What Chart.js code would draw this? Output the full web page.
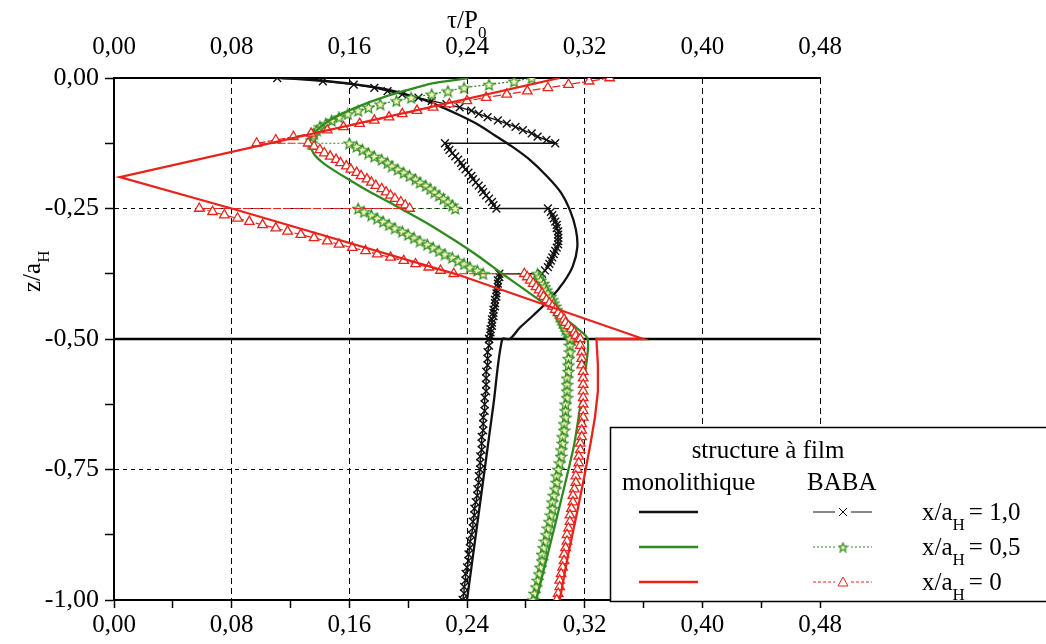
<!DOCTYPE html>
<html>
<head>
<meta charset="utf-8">
<script src="https://cdn.jsdelivr.net/npm/chart.js@4.4.1/dist/chart.umd.min.js"></script>
<style>
  html, body { margin: 0; padding: 0; background: #fff; }
</style>
</head>
<body>
<canvas id="profil" width="1046" height="644"></canvas>
<script>
// depth nodes shared by the three BABA curves (one block per layer, then the substrate)
const zSeg1 = [0, -0.00625, -0.0125, -0.01875, -0.025, -0.03125, -0.0375, -0.04375, -0.05, -0.05625, -0.0625, -0.06875, -0.075, -0.08125, -0.0875, -0.09375, -0.1, -0.10625, -0.1125, -0.11875, -0.125];
const zSeg2 = [-0.125, -0.13125, -0.1375, -0.14375, -0.15, -0.15625, -0.1625, -0.16875, -0.175, -0.18125, -0.1875, -0.19375, -0.2, -0.20625, -0.2125, -0.21875, -0.225, -0.23125, -0.2375, -0.24375, -0.25];
const zSeg3 = [-0.25, -0.25625, -0.2625, -0.26875, -0.275, -0.28125, -0.2875, -0.29375, -0.3, -0.30625, -0.3125, -0.31875, -0.325, -0.33125, -0.3375, -0.34375, -0.35, -0.35625, -0.3625, -0.36875, -0.375];
const zSeg4 = [-0.375, -0.38125, -0.3875, -0.39375, -0.4, -0.40625, -0.4125, -0.41875, -0.425, -0.43125, -0.4375, -0.44375, -0.45, -0.45625, -0.4625, -0.46875, -0.475, -0.48125, -0.4875, -0.49375, -0.5];
const zDeep = [-0.5, -0.5125, -0.525, -0.5375, -0.55, -0.5625, -0.575, -0.5875, -0.6, -0.6125, -0.625, -0.6375, -0.65, -0.6625, -0.675, -0.6875, -0.7, -0.7125, -0.725, -0.7375, -0.75, -0.7625, -0.775, -0.7875, -0.8, -0.8125, -0.825, -0.8375, -0.85, -0.8625, -0.875, -0.8875, -0.9, -0.9125, -0.925, -0.9375, -0.95, -0.9625, -0.975, -0.9875, -1];
const zBaba = [...zSeg1, ...zSeg2, ...zSeg3, ...zSeg4, ...zDeep];

// structure à film BABA, tau/P0 at each node
const tauBaba10 = [
  0.111, 0.142, 0.163, 0.177, 0.186, 0.196, 0.207, 0.216, 0.226, 0.235, 0.243, 0.248, 0.254, 0.261, 0.267, 0.273, 0.278, 0.284, 0.288, 0.294, 0.300,
  0.225, 0.227, 0.228, 0.230, 0.232, 0.234, 0.236, 0.237, 0.239, 0.241, 0.243, 0.244, 0.246, 0.248, 0.250, 0.251, 0.253, 0.255, 0.257, 0.258, 0.260,
  0.295, 0.297, 0.298, 0.299, 0.300, 0.301, 0.301, 0.302, 0.302, 0.302, 0.302, 0.302, 0.301, 0.300, 0.299, 0.298, 0.297, 0.296, 0.295, 0.293, 0.291,
  0.262, 0.262, 0.261, 0.261, 0.261, 0.260, 0.260, 0.260, 0.259, 0.259, 0.259, 0.258, 0.258, 0.258, 0.257, 0.257, 0.257, 0.256, 0.256, 0.256, 0.255,
  0.255, 0.255, 0.254, 0.254, 0.254, 0.253, 0.253, 0.253, 0.253, 0.252, 0.252, 0.252, 0.251, 0.251, 0.251, 0.250, 0.250, 0.250, 0.249, 0.249, 0.249,
  0.248, 0.248, 0.247, 0.247, 0.246, 0.245, 0.245, 0.244, 0.244, 0.243, 0.242, 0.242, 0.241, 0.241, 0.240, 0.239, 0.239, 0.238, 0.238, 0.237
];
const tauBaba05 = [
  0.284, 0.272, 0.255, 0.238, 0.227, 0.216, 0.202, 0.192, 0.181, 0.173, 0.166, 0.159, 0.153, 0.148, 0.144, 0.140, 0.138, 0.136, 0.135, 0.134, 0.134,
  0.160, 0.165, 0.169, 0.173, 0.177, 0.182, 0.186, 0.189, 0.193, 0.197, 0.201, 0.205, 0.208, 0.212, 0.215, 0.218, 0.221, 0.224, 0.227, 0.230, 0.232,
  0.166, 0.170, 0.175, 0.179, 0.183, 0.187, 0.191, 0.196, 0.200, 0.204, 0.208, 0.213, 0.217, 0.221, 0.225, 0.230, 0.234, 0.238, 0.242, 0.247, 0.251,
  0.288, 0.289, 0.290, 0.292, 0.293, 0.294, 0.295, 0.297, 0.298, 0.299, 0.300, 0.301, 0.302, 0.303, 0.304, 0.305, 0.306, 0.307, 0.308, 0.310, 0.311,
  0.310, 0.310, 0.310, 0.309, 0.309, 0.309, 0.308, 0.308, 0.308, 0.308, 0.307, 0.307, 0.307, 0.306, 0.306, 0.305, 0.305, 0.304, 0.304, 0.303, 0.302,
  0.301, 0.301, 0.300, 0.299, 0.298, 0.298, 0.297, 0.296, 0.295, 0.294, 0.293, 0.292, 0.291, 0.291, 0.290, 0.289, 0.288, 0.287, 0.286, 0.285
];
const tauBaba0 = [
  0.337, 0.323, 0.309, 0.295, 0.281, 0.267, 0.253, 0.240, 0.228, 0.217, 0.206, 0.196, 0.187, 0.177, 0.167, 0.156, 0.145, 0.134, 0.122, 0.110, 0.097,
  0.132, 0.136, 0.140, 0.143, 0.147, 0.151, 0.154, 0.158, 0.161, 0.165, 0.168, 0.172, 0.175, 0.178, 0.182, 0.185, 0.188, 0.191, 0.195, 0.198, 0.201,
  0.058, 0.067, 0.075, 0.084, 0.092, 0.101, 0.110, 0.118, 0.127, 0.136, 0.145, 0.153, 0.162, 0.171, 0.179, 0.188, 0.197, 0.205, 0.214, 0.222, 0.231,
  0.279, 0.281, 0.283, 0.285, 0.287, 0.289, 0.291, 0.292, 0.294, 0.296, 0.298, 0.300, 0.302, 0.304, 0.306, 0.307, 0.309, 0.311, 0.313, 0.314, 0.316,
  0.317, 0.317, 0.318, 0.318, 0.318, 0.319, 0.319, 0.319, 0.319, 0.319, 0.319, 0.319, 0.319, 0.318, 0.318, 0.318, 0.317, 0.317, 0.316, 0.316, 0.315,
  0.314, 0.314, 0.313, 0.312, 0.312, 0.311, 0.310, 0.310, 0.309, 0.308, 0.308, 0.307, 0.306, 0.306, 0.305, 0.304, 0.303, 0.303, 0.302, 0.301
];

// monolithique
const tauMono10 = [0.113, 0.135, 0.158, 0.182, 0.203, 0.218, 0.234, 0.248, 0.259, 0.270, 0.282, 0.295, 0.304, 0.310, 0.314, 0.315, 0.312, 0.306, 0.296, 0.285, 0.276, 0.269, 0.264, 0.258, 0.252, 0.246, 0.240];
const zMono10 = [0, -0.003, -0.010, -0.020, -0.035, -0.050, -0.070, -0.090, -0.110, -0.130, -0.155, -0.190, -0.220, -0.253, -0.290, -0.324, -0.360, -0.390, -0.425, -0.455, -0.478, -0.5, -0.5, -0.625, -0.75, -0.875, -1];
const tauMono05 = [0.241, 0.229, 0.217, 0.206, 0.194, 0.183, 0.172, 0.160, 0.149, 0.142, 0.138, 0.134, 0.133, 0.134, 0.136, 0.141, 0.149, 0.160, 0.172, 0.193, 0.214, 0.231, 0.247, 0.264, 0.279, 0.294, 0.306, 0.315, 0.322, 0.321, 0.318, 0.313, 0.309, 0.303, 0.296, 0.287];
const zMono05 = [0, -0.005, -0.010, -0.018, -0.027, -0.037, -0.048, -0.062, -0.077, -0.090, -0.100, -0.112, -0.122, -0.134, -0.146, -0.160, -0.176, -0.195, -0.215, -0.247, -0.280, -0.310, -0.340, -0.375, -0.405, -0.435, -0.460, -0.480, -0.5, -0.55, -0.61, -0.7, -0.75, -0.82, -0.9, -1];
const tauMono0 = [0.303, 0.004, 0.080, 0.233, 0.360, 0.328, 0.329, 0.329, 0.327, 0.324, 0.320, 0.315, 0.309, 0.303];
const zMono0 = [0, -0.19, -0.25, -0.376, -0.5, -0.5, -0.55, -0.6, -0.65, -0.7, -0.76, -0.83, -0.91, -1];

// film / substrate interface
const interfaceTau = [0, 0.48];
const interfaceZ = [-0.5, -0.5];

const xTicksTop = [0, 0.08, 0.16, 0.24, 0.32, 0.40, 0.48];

const BLACK = '#111111';
const GREEN = '#2f8a1f';
const RED = '#e8231b';
const FONT = '"Liberation Serif", "Times New Roman", serif';

function pairs(xs, ys) {
    const n = Math.min(xs.length, ys.length);
    const out = [];
    for (let i = 0; i < n; i++) out.push({ x: xs[i], y: ys[i] });
    return out;
}

function fmt(v) {
    const r = Math.round(v * 1000) / 1000;
    return (r === 0 ? 0 : r).toFixed(2).replace('.', ',');
}

function makeStar(size, stroke, fill) {
    const c = document.createElement('canvas');
    c.width = size;
    c.height = size;
    const g = c.getContext('2d');
    const cx = size / 2, cy = size / 2 + 0.6, r = size / 2 - 0.8;
    g.beginPath();
    for (let i = 0; i < 10; i++) {
        const a = -Math.PI / 2 + i * Math.PI / 5;
        const rr = i % 2 ? r * 0.45 : r;
        g.lineTo(cx + rr * Math.cos(a), cy + rr * Math.sin(a));
    }
    g.closePath();
    g.fillStyle = fill;
    g.fill();
    g.strokeStyle = stroke;
    g.lineWidth = 1.2;
    g.stroke();
    return c;
}

const starImg = makeStar(13, GREEN, '#f1f5b8');
const starLegend = makeStar(11, GREEN, '#f1f5b8');

const overlay = {
    id: 'overlay',
    afterDraw(chart) {
        const ctx = chart.ctx;
        ctx.save();
        ctx.fillStyle = '#000';
        ctx.textBaseline = 'alphabetic';
        ctx.textAlign = 'left';

        // axis titles
        ctx.font = '25px ' + FONT;
        ctx.fillText('τ/P', 447, 28);
        const wTop = ctx.measureText('τ/P').width;
        ctx.font = '17px ' + FONT;
        ctx.fillText('0', 447 + wTop, 38);

        ctx.save();
        ctx.translate(40, 292);
        ctx.rotate(-Math.PI / 2);
        ctx.font = '25px ' + FONT;
        ctx.fillText('z/a', 0, 0);
        const wLeft = ctx.measureText('z/a').width;
        ctx.font = '17px ' + FONT;
        ctx.fillText('H', wLeft, 9);
        ctx.restore();

        // legend box
        ctx.fillStyle = '#fff';
        ctx.fillRect(610, 427, 440, 175);
        ctx.strokeStyle = '#000';
        ctx.lineWidth = 1.5;
        ctx.strokeRect(610.5, 427.5, 440, 174);

        ctx.fillStyle = '#000';
        ctx.font = '25px ' + FONT;
        ctx.textAlign = 'center';
        ctx.fillText('structure à film', 768, 458);
        ctx.textAlign = 'left';
        ctx.fillText('monolithique', 622, 490);
        ctx.fillText('BABA', 807, 490);

        const rows = [
            { y: 512, color: BLACK, dash: [], label: '1,0', mark: 'cross' },
            { y: 547, color: GREEN, dash: [2, 2], label: '0,5', mark: 'star' },
            { y: 582, color: RED, dash: [3, 2], label: '0', mark: 'tri' }
        ];
        rows.forEach(r => {
            ctx.strokeStyle = r.color;
            ctx.lineWidth = 2.5;
            ctx.setLineDash([]);
            ctx.beginPath();
            ctx.moveTo(639, r.y);
            ctx.lineTo(698, r.y);
            ctx.stroke();

            ctx.lineWidth = 1;
            ctx.setLineDash(r.dash);
            ctx.beginPath();
            ctx.moveTo(813, r.y);
            ctx.lineTo(835, r.y);
            ctx.moveTo(851, r.y);
            ctx.lineTo(872, r.y);
            ctx.stroke();
            ctx.setLineDash([]);

            if (r.mark === 'cross') {
                ctx.beginPath();
                ctx.moveTo(839, r.y - 4); ctx.lineTo(847, r.y + 4);
                ctx.moveTo(847, r.y - 4); ctx.lineTo(839, r.y + 4);
                ctx.stroke();
            } else if (r.mark === 'star') {
                ctx.drawImage(starLegend, 843 - 5.5, r.y - 5.5);
            } else {
                ctx.beginPath();
                ctx.moveTo(843, r.y - 5);
                ctx.lineTo(848, r.y + 4);
                ctx.lineTo(838, r.y + 4);
                ctx.closePath();
                ctx.stroke();
            }

            ctx.fillStyle = '#000';
            ctx.font = '25px ' + FONT;
            ctx.fillText('x/a', 922, r.y + 8);
            let x = 922 + ctx.measureText('x/a').width;
            ctx.font = '17px ' + FONT;
            ctx.fillText('H', x, r.y + 18);
            x += ctx.measureText('H').width + 4;
            ctx.font = '25px ' + FONT;
            ctx.fillText('= ' + r.label, x, r.y + 8);
        });
        ctx.restore();
    }
};

const ctx = document.getElementById('profil').getContext('2d');

new Chart(ctx, {
    type: 'scatter',
    data: {
        datasets: [
            {
                label: 'monolithique x/aH = 0',
                data: pairs(tauMono0, zMono0),
                showLine: true,
                borderColor: RED,
                borderWidth: 2.3,
                pointRadius: 0,
                tension: 0
            },
            {
                label: 'BABA x/aH = 0',
                data: pairs(tauBaba0, zBaba),
                showLine: true,
                borderColor: RED,
                borderWidth: 1.2,
                borderDash: [8, 2],
                pointStyle: 'triangle',
                pointRadius: 5.5,
                pointBorderColor: RED,
                pointBackgroundColor: '#fff',
                pointBorderWidth: 1.3
            },
            {
                label: 'monolithique x/aH = 0,5',
                data: pairs(tauMono05, zMono05),
                showLine: true,
                borderColor: GREEN,
                borderWidth: 2.3,
                pointRadius: 0,
                tension: 0.3
            },
            {
                label: 'BABA x/aH = 0,5',
                data: pairs(tauBaba05, zBaba),
                showLine: true,
                borderColor: GREEN,
                borderWidth: 1.2,
                borderDash: [2, 2],
                pointStyle: starImg,
                pointRadius: 6
            },
            {
                label: 'monolithique x/aH = 1,0',
                data: pairs(tauMono10, zMono10),
                showLine: true,
                borderColor: BLACK,
                borderWidth: 2.3,
                pointRadius: 0,
                tension: 0.3
            },
            {
                label: 'BABA x/aH = 1,0',
                data: pairs(tauBaba10, zBaba),
                showLine: true,
                borderColor: BLACK,
                borderWidth: 1.4,
                pointStyle: 'crossRot',
                pointRadius: 5.5,
                pointBorderColor: BLACK,
                pointBorderWidth: 1.4
            },
            {
                label: 'interface',
                data: pairs(interfaceTau, interfaceZ),
                showLine: true,
                borderColor: '#000',
                borderWidth: 2.5,
                pointRadius: 0
            }
        ]
    },
    options: {
        responsive: false,
        animation: false,
        layout: { padding: { left: 0, right: 226, top: 0, bottom: 0 } },
        plugins: {
            legend: { display: false },
            tooltip: { enabled: false }
        },
        scales: {
            x: {
                type: 'linear',
                position: 'bottom',
                min: 0,
                max: 0.48,
                afterFit: s => { s.height = 44; },
                ticks: {
                    stepSize: 0.04,
                    autoSkip: false,
                    maxRotation: 0,
                    padding: 2,
                    color: '#000',
                    font: { family: FONT, size: 25 },
                    callback: (v, i) => (i % 2 === 0 ? fmt(v) : '')
                },
                grid: {
                    color: c => (c.index % 2 === 0 && c.index > 0 ? '#000' : 'rgba(0,0,0,0)'),
                    tickColor: '#000',
                    lineWidth: 1,
                    tickLength: 8,
                    tickWidth: 1.5
                },
                border: { display: true, color: '#000', width: 2, dash: [6, 4] }
            },
            x2: {
                type: 'linear',
                position: 'top',
                min: 0,
                max: 0.48,
                afterFit: s => { s.height = 78; },
                afterBuildTicks: s => { s.ticks = xTicksTop.map(v => ({ value: v })); },
                ticks: {
                    autoSkip: false,
                    maxRotation: 0,
                    padding: 8,
                    color: '#000',
                    font: { family: FONT, size: 25 },
                    callback: v => fmt(v)
                },
                grid: { display: false },
                border: { display: true, color: '#000', width: 2 }
            },
            y: {
                type: 'linear',
                position: 'left',
                min: -1,
                max: 0,
                afterFit: s => { s.width = 114; },
                ticks: {
                    stepSize: 0.125,
                    autoSkip: false,
                    padding: 6,
                    color: '#000',
                    font: { family: FONT, size: 26 },
                    callback: (v, i) => (i % 2 === 0 ? fmt(v) : '')
                },
                grid: {
                    color: c => (c.index % 2 === 0 && c.index > 0 && c.index < 8 ? '#000' : 'rgba(0,0,0,0)'),
                    tickColor: '#000',
                    lineWidth: 1,
                    tickLength: 9,
                    tickWidth: 1.5
                },
                border: { display: true, color: '#000', width: 2, dash: [4, 4] }
            }
        }
    },
    plugins: [overlay]
});
</script>
</body>
</html>
